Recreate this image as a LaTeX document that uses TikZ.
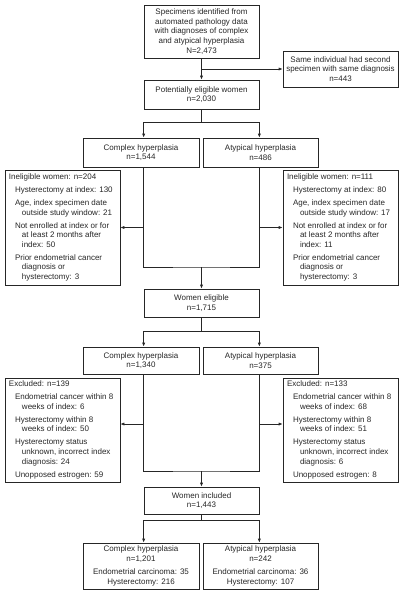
\documentclass[tikz,border=0pt]{standalone}
\usepackage{fontspec}
\setmainfont{Liberation Sans}
\usetikzlibrary{arrows.meta}
\newcommand\hd[1]{\multicolumn{3}{@{}l@{}}{\makebox[107pt][l]{#1}}}
\newcommand\fl[1]{\multicolumn{2}{@{}l@{}}{#1}}
\newenvironment{itemtab}{\begin{tabular}{@{}p{6pt}@{}p{7pt}@{}l@{}}}{\end{tabular}}
\begin{document}
\begin{tikzpicture}[x=1pt,y=-1pt,
  box/.style={draw=black!85,line width=0.7pt,rectangle,inner sep=2pt,
    font=\fontsize{8}{9.6}\selectfont,align=center,text=black!85},
  cbox/.style={box,minimum width=115pt},
  listbox/.style={box,minimum width=115pt,inner xsep=4pt},
  arr/.style={draw=black!85,line width=0.7pt,-{Latex[length=4pt,width=3.2pt]}},
  ln/.style={draw=black!85,line width=0.7pt}]
\useasboundingbox (0,0) rectangle (404,599);
\node[cbox,minimum height=53pt] (top) at (201.5,31.5) {Specimens identified from\\automated pathology data\\with diagnoses of complex\\and atypical hyperplasia\\N=2,473};
\node[cbox,minimum height=36pt] (same) at (340.5,69) {Same individual had second\\specimen with same diagnosis\\n=443};
\node[cbox,minimum height=29pt] (pot) at (201.5,94.5) {Potentially eligible women\\n=2,030};
\node[cbox,minimum width=116pt,minimum height=29pt] (c1) at (141,152.5) {Complex hyperplasia\\n=1,544};
\node[cbox,minimum height=29pt] (a1) at (260.5,152.5) {Atypical hyperplasia\\n=486};
\node[listbox,minimum height=115pt] (inL) at (62.5,227.5) {\begin{itemtab}
 \hd{Ineligible women: n=204}\\[3.4pt]
 & \fl{Hysterectomy at index: 130}\\[3.4pt]
 & \fl{Age, index specimen date}\\ & & outside study window: 21\\[3.4pt]
 & \fl{Not enrolled at index or for}\\ & & at least 2 months after\\ & & index: 50\\[3.4pt]
 & \fl{Prior endometrial cancer}\\ & & diagnosis or\\ & & hysterectomy: 3
 \end{itemtab}};
\node[listbox,minimum height=115pt] (inR) at (340.5,227.5) {\begin{itemtab}
 \hd{Ineligible women: n=111}\\[3.4pt]
 & \fl{Hysterectomy at index: 80}\\[3.4pt]
 & \fl{Age, index specimen date}\\ & & outside study window: 17\\[3.4pt]
 & \fl{Not enrolled at index or for}\\ & & at least 2 months after\\ & & index: 11\\[3.4pt]
 & \fl{Prior endometrial cancer}\\ & & diagnosis or\\ & & hysterectomy: 3
 \end{itemtab}};
\node[cbox,minimum height=28pt] (elig) at (201.5,303) {Women eligible\\n=1,715};
\node[cbox,minimum width=116pt,minimum height=27pt] (c2) at (141,360.5) {Complex hyperplasia\\n=1,340};
\node[cbox,minimum height=27pt] (a2) at (260.5,360.5) {Atypical hyperplasia\\n=375};
\node[listbox,minimum height=104pt] (exL) at (62.5,430) {\begin{itemtab}
 \hd{Excluded: n=139}\\[3.4pt]
 & \fl{Endometrial cancer within 8}\\ & & weeks of index: 6\\[3.4pt]
 & \fl{Hysterectomy within 8}\\ & & weeks of index: 50\\[3.4pt]
 & \fl{Hysterectomy status}\\ & & unknown, incorrect index\\ & & diagnosis: 24\\[3.4pt]
 & \fl{Unopposed estrogen: 59}
 \end{itemtab}};
\node[listbox,minimum height=104pt] (exR) at (340.5,430) {\begin{itemtab}
 \hd{Excluded: n=133}\\[3.4pt]
 & \fl{Endometrial cancer within 8}\\ & & weeks of index: 68\\[3.4pt]
 & \fl{Hysterectomy within 8}\\ & & weeks of index: 51\\[3.4pt]
 & \fl{Hysterectomy status}\\ & & unknown, incorrect index\\ & & diagnosis: 6\\[3.4pt]
 & \fl{Unopposed estrogen: 8}
 \end{itemtab}};
\node[cbox,minimum height=27pt] (incl) at (201.5,500.5) {Women included\\n=1,443};
\node[cbox,minimum width=116pt,minimum height=46pt] (c3) at (141,566) {Complex hyperplasia\\n=1,201\\[3.4pt]Endometrial carcinoma: 35\\Hysterectomy: 216};
\node[cbox,minimum height=46pt] (a3) at (260.5,566) {Atypical hyperplasia\\n=242\\[3.4pt]Endometrial carcinoma: 36\\Hysterectomy: 107};
% connectors
\draw[arr] (top.south) -- (pot.north);
\draw[arr] (top.south |- same.west) -- (same.west);
\draw[ln] (pot.south) -- ++(0,13) coordinate (s1);
\draw[arr] (s1) -| (pot.west |- c1.north);
\draw[arr] (s1) -| (pot.east |- a1.north);
\coordinate (j1) at (201.5,267);
\draw[ln] (pot.west |- c1.south) |- (j1) -| (pot.east |- a1.south);
\draw[arr] (j1) -- (elig.north);
\draw[arr] (pot.west |- inL.east) -- (inL.east);
\draw[arr] (pot.east |- inR.west) -- (inR.west);
\draw[ln] (elig.south) -- ++(0,14) coordinate (s2);
\draw[arr] (s2) -| (pot.west |- c2.north);
\draw[arr] (s2) -| (pot.east |- a2.north);
\coordinate (j2) at (201.5,471);
\draw[ln] (pot.west |- c2.south) |- (j2) -| (pot.east |- a2.south);
\draw[arr] (j2) -- (incl.north);
\draw[arr] ([yshift=6pt]exL.east -| pot.west) -- ([yshift=6pt]exL.east);
\draw[arr] ([yshift=6pt]exR.west -| pot.east) -- ([yshift=6pt]exR.west);
\draw[ln] (incl.south) -- ++(0,6) coordinate (s3);
\draw[arr] (s3) -| (pot.west |- c3.north);
\draw[arr] (s3) -| (pot.east |- a3.north);
\end{tikzpicture}
\end{document}
